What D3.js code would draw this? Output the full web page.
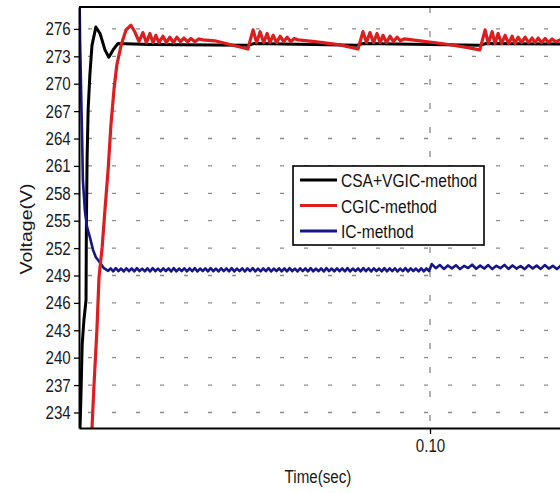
<!DOCTYPE html>
<html>
<head>
<meta charset="utf-8">
<script src="https://cdn.jsdelivr.net/npm/d3@7"></script>
<style>
  body { margin: 0; background: #fff; }
  svg { display: block; font-family: "Liberation Sans", Arial, sans-serif; }
</style>
</head>
<body>
<svg id="chart" width="560" height="493"></svg>
<script>
// tick labels
const yTicks = [234, 237, 240, 243, 246, 249, 252, 255, 258, 261, 264, 267, 270, 273, 276];
const xTicks = [0.10];
const seriesNames = ["CSA+VGIC-method", "CGIC-method", "IC-method"];
const seriesColors = ["#000000", "#dc1e1e", "#16168a"];
const seriesWidths = [3, 3.2, 2.6];

// CSA+VGIC-method, [time (s), voltage (V)]
const blackData = [
  [0, 226], [0.0003, 232.3], [0.0006, 236.5], [0.0009, 241.4], [0.0014, 244.1],
  [0.0020, 246.3], [0.0021, 254.0], [0.0023, 261.7], [0.0026, 267.1], [0.0031, 271.0],
  [0.0037, 274.2], [0.0048, 276.2], [0.0060, 275.5], [0.0074, 273.7], [0.0085, 272.9],
  [0.0097, 273.7], [0.0111, 274.4], [0.0200, 274.3], [0.0480, 274.2], [0.0500, 274.4],
  [0.0790, 274.2], [0.0810, 274.4], [0.1140, 274.2], [0.1160, 274.4], [0.1400, 274.35]
];

// CGIC-method, [time (s), voltage (V)]
const redData = [
  [0, 215], [0.0026, 222.2], [0.0037, 232.3], [0.0043, 237.2], [0.0051, 243.0],
  [0.0057, 248.8], [0.0066, 252.1], [0.0074, 256.2], [0.0083, 260.6], [0.0091, 265.5],
  [0.0100, 269.5], [0.0108, 272.1], [0.0120, 274.2], [0.0134, 275.9], [0.0148, 276.4],
  [0.0160, 275.6], [0.0171, 274.6], [0.0182, 275.6], [0.0192, 274.5], [0.0202, 275.5],
  [0.0211, 274.5], [0.0219, 275.3], [0.0228, 274.5], [0.0239, 275.2], [0.0249, 274.5],
  [0.0259, 275.1], [0.0269, 274.5], [0.0279, 275.1], [0.0289, 274.6], [0.0299, 275.0],
  [0.0309, 274.6], [0.0319, 274.95], [0.0330, 274.6], [0.0342, 274.9], [0.0353, 274.8],
  [0.0387, 274.7], [0.0430, 274.3], [0.0481, 273.8],
  [0.0496, 275.9], [0.0506, 274.5], [0.0516, 275.7], [0.0526, 274.5], [0.0536, 275.5],
  [0.0544, 274.5], [0.0553, 275.3], [0.0563, 274.5], [0.0573, 275.2], [0.0583, 274.6],
  [0.0593, 275.1], [0.0603, 274.6], [0.0613, 274.95], [0.0624, 274.8],
  [0.0672, 274.6], [0.0744, 274.25], [0.0795, 273.8],
  [0.0809, 275.7], [0.0819, 274.5], [0.0829, 275.6], [0.0839, 274.5], [0.0849, 275.5],
  [0.0858, 274.5], [0.0866, 275.3], [0.0876, 274.5], [0.0886, 275.2], [0.0896, 274.6],
  [0.0906, 275.1], [0.0916, 274.7], [0.0926, 274.9],
  [0.0972, 274.7], [0.1043, 274.35], [0.1100, 274.0], [0.1142, 273.7],
  [0.1157, 275.9], [0.1166, 274.4], [0.1177, 275.7], [0.1185, 274.4], [0.1194, 275.5],
  [0.1204, 274.4], [0.1214, 275.3], [0.1224, 274.4], [0.1234, 275.2], [0.1242, 274.4],
  [0.1251, 275.1], [0.1261, 274.5], [0.1271, 275.1], [0.1281, 274.5], [0.1291, 275.0],
  [0.1299, 274.5], [0.1308, 275.0], [0.1318, 274.5], [0.1328, 274.95], [0.1338, 274.5],
  [0.1348, 274.9], [0.1358, 274.6], [0.1370, 274.8], [0.1400, 274.7]
];

// IC-method start-up, [time (s), voltage (V)]
const blueStart = [
  [0, 285], [0.0003, 274.8], [0.0006, 269.3], [0.0009, 263.8], [0.0011, 259.5],
  [0.0017, 256.0], [0.0023, 254.3], [0.0031, 253.2], [0.0040, 251.8], [0.0048, 251.0],
  [0.0060, 250.4], [0.0071, 249.8], [0.0083, 249.5]
];
// IC-method ripple, sampled every 0.75 ms from 9.0 ms
const blueRippleA = [
  249.78, 249.46, 249.80, 249.48, 249.76, 249.44, 249.79, 249.47, 249.77, 249.45,
  249.80, 249.48, 249.75, 249.46, 249.78, 249.44, 249.80, 249.47, 249.76, 249.45,
  249.79, 249.48, 249.77, 249.44, 249.80, 249.46, 249.76, 249.48, 249.79, 249.45,
  249.77, 249.47, 249.80, 249.44, 249.76, 249.48, 249.78, 249.45, 249.80, 249.47,
  249.75, 249.44, 249.79, 249.48, 249.77, 249.46, 249.80, 249.45, 249.76, 249.47,
  249.79, 249.44, 249.77, 249.48, 249.80, 249.46, 249.75, 249.45, 249.78, 249.47,
  249.80, 249.44, 249.76, 249.48, 249.79, 249.46, 249.77, 249.45, 249.80, 249.47,
  249.76, 249.44, 249.79, 249.48, 249.77, 249.45, 249.80, 249.46, 249.75, 249.47,
  249.78, 249.44, 249.80, 249.48, 249.76, 249.45, 249.79, 249.47, 249.77, 249.46,
  249.80, 249.44, 249.76, 249.48, 249.78, 249.45, 249.80, 249.47, 249.77, 249.44,
  249.79, 249.48, 249.76, 249.45, 249.80, 249.46, 249.77, 249.48, 249.79, 249.44,
  249.76, 249.47, 249.80, 249.45, 249.78, 249.48, 249.76, 249.46, 249.79, 249.45,
  249.77, 249.48
];
const rippleAStart = 0.0090, rippleAStep = 0.00075;
// IC-method after 0.10 s, sampled every 1.15 ms from 100.5 ms
const blueRippleB = [
  250.25, 249.80, 250.15, 249.72, 250.10, 249.78, 250.12, 249.70, 250.05, 249.82,
  250.18, 249.74, 250.08, 249.76, 250.14, 249.70, 250.06, 249.80, 250.16, 249.72,
  250.10, 249.76, 250.04, 249.70, 250.12, 249.78, 250.08, 249.72, 250.14, 249.76,
  250.06, 249.70, 250.10, 249.78, 250.12, 249.74
];
const rippleBStart = 0.1005, rippleBStep = 0.00115;

const blueData = blueStart
  .concat(blueRippleA.map((v, i) => [rippleAStart + i * rippleAStep, v]))
  .concat(blueRippleB.map((v, i) => [rippleBStart + i * rippleBStep, v]));

const svg = d3.select("#chart");
const plotLeft = 79, plotTop = 7, plotBottom = 428;

const x = d3.scaleLinear().domain([0, 0.14]).range([plotLeft, plotLeft + 3510 * 0.14]);
const y = d3.scaleLinear().domain([232.3, 278.4]).range([plotBottom, plotTop]);

svg.append("clipPath").attr("id", "plot")
  .append("rect").attr("x", plotLeft).attr("y", plotTop)
  .attr("width", 600).attr("height", plotBottom - plotTop);

// dashed grid
svg.append("g").selectAll("line").data(yTicks).join("line")
  .attr("x1", plotLeft).attr("x2", 600)
  .attr("y1", d => y(d)).attr("y2", d => y(d))
  .attr("stroke", "#8c8c8c").attr("stroke-width", 1.3)
  .attr("stroke-dasharray", "4,20").attr("stroke-dashoffset", 15);
svg.append("g").selectAll("line").data(xTicks).join("line")
  .attr("x1", d => x(d)).attr("x2", d => x(d))
  .attr("y1", plotTop).attr("y2", plotBottom)
  .attr("stroke", "#8c8c8c").attr("stroke-width", 1.3)
  .attr("stroke-dasharray", "6,18");

// series
const line = d3.line().x(d => x(d[0])).y(d => y(d[1]));
const plot = svg.append("g").attr("clip-path", "url(#plot)");
[[blackData, 0], [blueData, 2], [redData, 1]].forEach(([data, i]) => {
  plot.append("path").datum(data)
    .attr("fill", "none")
    .attr("stroke", seriesColors[i])
    .attr("stroke-width", seriesWidths[i])
    .attr("stroke-linejoin", "round")
    .attr("d", line);
});

// axes
const yAxis = svg.append("g").attr("transform", "translate(" + plotLeft + ",0)")
  .call(d3.axisLeft(y).tickValues(yTicks).tickFormat(d3.format("d")).tickSize(5).tickSizeOuter(0));
const xAxis = svg.append("g").attr("transform", "translate(0," + plotBottom + ")")
  .call(d3.axisBottom(x).tickValues(xTicks).tickFormat(d3.format(".2f")).tickSize(6).tickSizeOuter(0));
[yAxis, xAxis].forEach(g => {
  g.attr("font-family", null).attr("font-size", null);
  g.select(".domain").attr("stroke-width", 2);
  g.selectAll(".tick line").attr("stroke-width", 1.3);
  g.selectAll("text").attr("fill", "#1a1a1a").style("font-size", "18.5px");
});
yAxis.selectAll("text").attr("x", -10).attr("transform", "scale(0.82,1)");
xAxis.selectAll("text").attr("y", 11).attr("transform", "scale(0.82,1)");

// top border
svg.append("line").attr("x1", plotLeft).attr("x2", 560).attr("y1", plotTop).attr("y2", plotTop)
  .attr("stroke", "#000").attr("stroke-width", 2);

// axis titles
svg.append("text").attr("transform", "translate(318,483) scale(0.82,1)")
  .attr("text-anchor", "middle").attr("fill", "#1a1a1a").style("font-size", "18.5px")
  .text("Time(sec)");
svg.append("text").attr("transform", "translate(32,229) rotate(-90) scale(1,0.85)")
  .attr("text-anchor", "middle").attr("fill", "#1a1a1a").style("font-size", "19.5px")
  .text("Voltage(V)");

// legend
const legend = svg.append("g");
legend.append("rect").attr("x", 293).attr("y", 166).attr("width", 191).attr("height", 79)
  .attr("fill", "#fff").attr("stroke", "#000").attr("stroke-width", 1.6);
seriesNames.forEach((name, i) => {
  const ly = 180 + i * 25.5;
  legend.append("line").attr("x1", 300).attr("x2", 337).attr("y1", ly).attr("y2", ly)
    .attr("stroke", seriesColors[i]).attr("stroke-width", 2.8);
  legend.append("text").attr("transform", "translate(341," + (ly + 7) + ") scale(0.82,1)")
    .attr("fill", "#111").style("font-size", "19px").text(name);
});
</script>
</body>
</html>
